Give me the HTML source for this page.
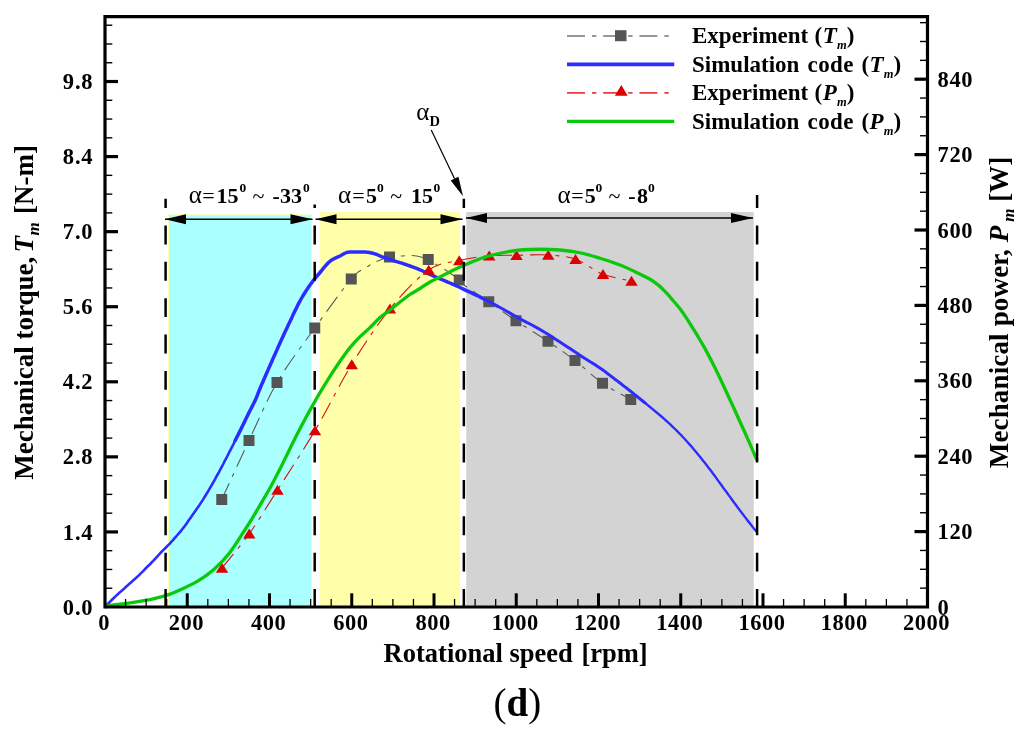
<!DOCTYPE html>
<html lang="en"><head><meta charset="utf-8"><title>Mechanical torque and power vs rotational speed (d)</title>
<style>html,body{margin:0;padding:0;background:#fff}svg{display:block}text{font-family:"Liberation Serif","DejaVu Serif",serif;fill:#000}.b{font-weight:bold}.i{font-style:italic}.bi{font-weight:bold;font-style:italic}</style></head><body>
<svg width="1024" height="736" viewBox="0 0 1024 736">
<rect width="1024" height="736" fill="#fff"/>
<rect x="168.5" y="214.8" width="143.2" height="392" fill="#aaffff" stroke="#ffffb0" stroke-width="1.1"/>
<rect x="319.5" y="212" width="140.5" height="394.5" fill="#ffffaa"/>
<rect x="466.25" y="212" width="287.5" height="394.5" fill="#d3d3d3"/>
<path d="M221.75,499.50 C226.29,489.67 239.79,460.00 249.00,440.50 C258.21,421.00 266.04,401.25 277.00,382.50 C287.96,363.75 302.38,345.25 314.75,328.00 C327.12,310.75 342.82,288.98 351.25,279.00 C359.68,269.02 361.34,270.88 365.30,268.10 C369.26,265.32 370.97,264.15 375.00,262.30 C379.03,260.45 385.08,258.05 389.50,257.00 C393.92,255.95 397.92,256.25 401.50,256.00 C405.08,255.75 407.58,255.30 411.00,255.50 C414.42,255.70 419.12,256.53 422.00,257.20 C424.88,257.87 426.20,258.48 428.25,259.50 C430.30,260.52 432.61,262.22 434.30,263.30 C435.99,264.38 436.28,264.72 438.40,266.00 C440.52,267.28 443.52,268.67 447.00,271.00 C450.48,273.33 456.35,277.62 459.25,280.00 C462.15,282.38 461.82,283.25 464.40,285.30 C466.97,287.35 470.64,289.56 474.70,292.30 C478.76,295.04 481.87,297.01 488.75,301.75 C495.63,306.49 506.12,314.17 516.00,320.75 C525.88,327.33 538.17,334.62 548.00,341.25 C557.83,347.88 565.92,353.50 575.00,360.50 C584.08,367.50 593.21,376.75 602.50,383.25 C611.79,389.75 626.04,396.79 630.75,399.50" fill="none" stroke="#5a5a5a" stroke-width="1.1" stroke-dasharray="18 7 4 7"/>
<rect x="216.25" y="494.00" width="11" height="11" fill="#555"/>
<rect x="243.50" y="435.00" width="11" height="11" fill="#555"/>
<rect x="271.50" y="377.00" width="11" height="11" fill="#555"/>
<rect x="309.25" y="322.50" width="11" height="11" fill="#555"/>
<rect x="345.75" y="273.50" width="11" height="11" fill="#555"/>
<rect x="384.00" y="251.50" width="11" height="11" fill="#555"/>
<rect x="422.75" y="254.00" width="11" height="11" fill="#555"/>
<rect x="453.75" y="274.50" width="11" height="11" fill="#555"/>
<rect x="483.25" y="296.25" width="11" height="11" fill="#555"/>
<rect x="510.50" y="315.25" width="11" height="11" fill="#555"/>
<rect x="542.50" y="335.75" width="11" height="11" fill="#555"/>
<rect x="569.50" y="355.00" width="11" height="11" fill="#555"/>
<rect x="597.00" y="377.75" width="11" height="11" fill="#555"/>
<rect x="625.25" y="394.00" width="11" height="11" fill="#555"/>
<path d="M105.5,607.0 L105.6,606.9 L105.6,606.7 L105.6,606.5 L105.8,606.2 L106.2,605.7 L106.8,605.0 L107.8,604.0 L109.1,602.6 L110.6,601.1 L112.2,599.5 L113.8,598.0 L115.2,596.6 L116.5,595.4 L117.8,594.2 L119.0,593.1 L120.3,592.0 L121.5,590.9 L122.8,589.8 L124.1,588.7 L125.3,587.5 L126.6,586.3 L127.9,585.2 L129.1,584.0 L130.4,582.9 L131.7,581.8 L132.9,580.7 L134.2,579.5 L135.5,578.4 L136.7,577.3 L138.0,576.1 L139.3,574.9 L140.5,573.6 L141.8,572.4 L143.1,571.1 L144.3,569.8 L145.6,568.5 L146.9,567.2 L148.1,566.0 L149.4,564.8 L150.7,563.5 L151.9,562.2 L153.2,560.9 L154.5,559.5 L155.8,558.1 L157.1,556.7 L158.3,555.3 L159.6,553.9 L160.9,552.5 L162.2,551.2 L163.4,549.9 L164.7,548.7 L166.0,547.5 L167.2,546.2 L168.5,544.9 L169.8,543.6 L171.0,542.2 L172.3,540.8 L173.6,539.4 L174.8,537.9 L176.1,536.5 L177.4,535.0 L178.6,533.6 L179.9,532.1 L181.2,530.6 L182.4,529.0 L183.7,527.4 L185.0,525.7 L186.3,523.9 L187.6,522.0 L188.9,520.1 L190.1,518.4 L191.3,516.7 L192.3,515.2 L193.3,513.9 L194.2,512.6 L195.1,511.3 L196.0,510.0 L197.0,508.5 L198.1,506.9 L199.3,505.2 L200.5,503.4 L201.7,501.6 L203.0,499.6 L204.3,497.5 L205.7,495.2 L207.2,492.8 L208.7,490.3 L210.2,487.7 L211.7,485.1 L213.2,482.5 L214.7,479.9 L216.1,477.2 L217.6,474.5 L219.1,471.8 L220.5,469.1 L222.0,466.3 L223.5,463.5 L224.9,460.7 L226.4,457.9 L227.9,455.0 L229.3,452.2 L230.8,449.3 L232.3,446.4 L233.8,443.5 L235.2,440.5 L236.7,437.5 L238.2,434.6 L239.7,431.6" fill="none" stroke="#2c2cff" stroke-width="2.6" stroke-linejoin="round" stroke-linecap="round"/>
<path d="M235.2,440.5 L236.7,437.5 L238.2,434.6 L239.7,431.6 L241.2,428.6 L242.7,425.5 L244.2,422.4 L245.7,419.3 L247.1,416.4 L248.5,413.6 L249.8,411.0 L251.1,408.5 L252.3,406.1 L253.5,403.8 L254.6,401.6 L255.6,399.5 L256.4,397.6 L257.1,396.0 L257.6,394.6 L258.2,392.9 L259.0,391.0 L260.0,388.5 L261.3,385.4 L262.9,381.7 L264.6,377.7 L266.5,373.6 L268.3,369.4 L270.0,365.5 L271.7,361.7 L273.3,357.9 L275.0,354.2 L276.7,350.4 L278.3,346.7 L280.0,343.0 L281.7,339.3 L283.3,335.7 L285.0,332.1 L286.7,328.5 L288.3,324.9 L290.0,321.4 L291.7,317.9 L293.3,314.3 L295.0,310.9 L296.7,307.4 L298.3,304.1 L300.0,301.0 L301.7,298.0 L303.3,295.2 L305.0,292.5 L306.7,289.9 L308.3,287.4 L310.0,285.0 L311.7,282.7 L313.3,280.5 L315.0,278.5 L316.7,276.4 L318.3,274.5 L320.0,272.5 L321.7,270.5 L323.3,268.4 L325.0,266.4 L326.7,264.5 L328.3,262.8 L330.0,261.2 L331.7,260.0 L333.5,259.0 L335.2,258.1 L336.9,257.4 L338.5,256.7 L340.0,256.0 L341.3,255.3 L342.5,254.6 L343.5,254.0 L344.5,253.4 L345.5,253.0 L346.5,252.6 L347.4,252.3 L348.3,252.2 L349.2,252.1 L350.0,252.1 L351.0,252.1 L352.0,252.1 L353.2,252.1 L354.5,252.0 L355.8,252.0 L357.2,252.0 L358.6,252.0 L360.0,252.0 L361.3,252.0 L362.7,252.0 L364.1,252.0 L365.4,252.1 L366.7,252.2 L368.0,252.3 L369.2,252.5 L370.4,252.7 L371.6,253.0 L372.8,253.3 L373.9,253.6 L375.0,253.9 L376.0,254.2 L377.0,254.6 L377.9,255.0 L378.8,255.4 L379.8,255.8 L381.0,256.3 L382.3,256.8 L383.7,257.3 L385.2,257.9 L386.8,258.5 L388.4,259.1 L390.0,259.6 L391.6,260.1 L393.3,260.6 L394.9,261.1 L396.6,261.6 L398.3,262.1 L400.0,262.6 L401.7,263.1 L403.3,263.7 L405.0,264.3 L406.7,264.8 L408.3,265.4 L410.0,266.0 L411.7,266.6 L413.3,267.2 L415.0,267.8 L416.7,268.4 L418.3,269.1 L420.0,269.8 L421.7,270.5 L423.3,271.3 L425.0,272.1 L426.7,272.9 L428.3,273.7 L430.0,274.5 L431.7,275.2 L433.3,276.0 L435.0,276.7 L436.7,277.4 L438.3,278.0 L440.0,278.8 L441.7,279.5 L443.3,280.2 L445.0,280.9 L446.7,281.6 L448.3,282.3 L450.0,283.0 L451.6,283.7 L453.0,284.3 L454.4,284.9 L455.9,285.6 L457.8,286.5 L460.0,287.5 L462.8,288.8 L465.9,290.3 L469.4,291.9 L473.0,293.6 L476.6,295.3 L480.0,297.0 L483.3,298.7" fill="none" stroke="#2c2cff" stroke-width="3.5" stroke-linejoin="round" stroke-linecap="round"/>
<path d="M480.0,297.0 L483.3,298.7 L486.7,300.4 L490.0,302.1 L493.3,303.9 L496.7,305.7 L500.0,307.5 L503.3,309.3 L506.7,311.2 L510.0,313.1 L513.3,315.0 L516.7,316.9 L520.0,318.8 L523.3,320.6 L526.7,322.3 L530.0,324.0 L533.3,325.8 L536.7,327.6 L540.0,329.5 L543.3,331.5 L546.7,333.5 L550.0,335.6 L553.3,337.7 L556.7,339.9 L560.0,342.0 L563.3,344.2 L566.7,346.4 L570.0,348.6 L573.3,350.8 L576.7,353.0 L580.0,355.2 L583.4,357.4 L587.0,359.7 L590.6,362.0 L594.1,364.1 L597.2,366.2 L600.0,368.0 L602.2,369.5 L604.1,370.9 L605.6,372.0 L607.0,373.1 L608.4,374.2 L610.0,375.4 L611.7,376.7 L613.3,377.9 L615.0,379.2 L616.7,380.4 L618.3,381.7 L620.0,383.0 L621.7,384.3 L623.3,385.6 L625.0,386.9 L626.7,388.2 L628.3,389.5 L630.0,390.8 L631.7,392.1 L633.3,393.4 L635.0,394.8 L636.7,396.1 L638.3,397.5 L640.0,398.8 L641.7,400.2 L643.3,401.5 L645.0,402.9" fill="none" stroke="#2c2cff" stroke-width="3.0" stroke-linejoin="round" stroke-linecap="round"/>
<path d="M640.0,398.8 L641.7,400.2 L643.3,401.5 L645.0,402.9 L646.7,404.3 L648.3,405.6 L650.0,407.0 L651.7,408.4 L653.3,409.7 L655.0,411.1 L656.7,412.5 L658.3,413.9 L660.0,415.3 L661.7,416.7 L663.3,418.2 L665.0,419.7 L666.7,421.1 L668.3,422.7 L670.0,424.2 L671.7,425.8 L673.3,427.4 L675.0,429.0 L676.7,430.6 L678.3,432.3 L680.0,434.0 L681.7,435.7 L683.3,437.5 L685.0,439.3 L686.7,441.2 L688.3,443.0 L690.0,444.9 L691.7,446.8 L693.3,448.8 L695.0,450.7 L696.7,452.7 L698.3,454.8 L700.0,456.8 L701.7,458.9 L703.3,461.0 L705.0,463.1 L706.7,465.2 L708.3,467.4 L710.0,469.6 L711.7,471.8 L713.3,474.1 L715.0,476.3 L716.7,478.6 L718.3,480.9 L720.0,483.2 L721.7,485.5 L723.3,487.8 L725.0,490.1 L726.7,492.3 L728.3,494.6 L730.0,496.9 L731.7,499.2 L733.3,501.5 L735.0,503.7 L736.7,506.0 L738.3,508.3 L740.0,510.5 L741.7,512.8 L743.5,515.1 L745.2,517.4 L746.9,519.6 L748.5,521.7 L750.0,523.6 L751.4,525.3 L752.7,526.9 L753.9,528.4 L754.9,529.7 L755.8,530.8 L756.5,531.6" fill="none" stroke="#2c2cff" stroke-width="2.4" stroke-linejoin="round" stroke-linecap="round"/>
<path d="M222.00,568.00 C226.54,562.29 240.00,546.75 249.25,533.75 C258.50,520.75 266.54,507.21 277.50,490.00 C288.46,472.79 302.62,451.42 315.00,430.50 C327.38,409.58 339.25,384.79 351.75,364.50 C364.25,344.21 377.17,324.50 390.00,308.75 C402.83,293.00 417.21,278.04 428.75,270.00 C440.29,261.96 449.17,262.88 459.25,260.50 C469.33,258.12 479.71,256.62 489.25,255.75 C498.79,254.88 506.67,255.38 516.50,255.25 C526.33,255.12 538.42,254.33 548.25,255.00 C558.08,255.67 566.38,256.04 575.50,259.25 C584.62,262.46 593.67,270.62 603.00,274.25 C612.33,277.88 626.75,279.88 631.50,281.00" fill="none" stroke="#d81010" stroke-width="1.1" stroke-dasharray="18 7 4 7"/>
<path d="M222.00,562.80 L228.20,572.80 L215.80,572.80 Z" fill="#dc0000"/>
<path d="M249.25,528.55 L255.45,538.55 L243.05,538.55 Z" fill="#dc0000"/>
<path d="M277.50,484.80 L283.70,494.80 L271.30,494.80 Z" fill="#dc0000"/>
<path d="M315.00,425.30 L321.20,435.30 L308.80,435.30 Z" fill="#dc0000"/>
<path d="M351.75,359.30 L357.95,369.30 L345.55,369.30 Z" fill="#dc0000"/>
<path d="M390.00,303.55 L396.20,313.55 L383.80,313.55 Z" fill="#dc0000"/>
<path d="M428.75,264.80 L434.95,274.80 L422.55,274.80 Z" fill="#dc0000"/>
<path d="M459.25,255.30 L465.45,265.30 L453.05,265.30 Z" fill="#dc0000"/>
<path d="M489.25,250.55 L495.45,260.55 L483.05,260.55 Z" fill="#dc0000"/>
<path d="M516.50,250.05 L522.70,260.05 L510.30,260.05 Z" fill="#dc0000"/>
<path d="M548.25,249.80 L554.45,259.80 L542.05,259.80 Z" fill="#dc0000"/>
<path d="M575.50,254.05 L581.70,264.05 L569.30,264.05 Z" fill="#dc0000"/>
<path d="M603.00,269.05 L609.20,279.05 L596.80,279.05 Z" fill="#dc0000"/>
<path d="M631.50,275.80 L637.70,285.80 L625.30,285.80 Z" fill="#dc0000"/>
<path d="M105.50,607.00 C106.10,606.77 106.22,606.12 109.10,605.60 C111.98,605.08 117.98,604.57 122.80,603.90 C127.62,603.23 132.93,602.43 138.00,601.60 C143.07,600.77 148.12,600.07 153.20,598.90 C158.28,597.73 163.42,596.38 168.50,594.60 C173.58,592.82 178.63,590.57 183.70,588.20 C188.77,585.83 193.83,583.57 198.90,580.40 C203.97,577.23 209.03,573.73 214.10,569.20 C219.17,564.67 224.23,559.65 229.30,553.20 C234.37,546.75 240.50,536.60 244.50,530.50 C248.50,524.40 250.37,521.42 253.30,516.60 C256.23,511.78 259.15,506.67 262.10,501.60 C265.05,496.53 268.05,491.58 271.00,486.20 C273.95,480.82 276.87,475.10 279.80,469.30 C282.73,463.50 285.65,457.35 288.60,451.40 C291.55,445.45 294.55,439.37 297.50,433.60 C300.45,427.83 303.50,421.98 306.30,416.80 C309.10,411.62 312.02,406.53 314.30,402.50 C316.58,398.47 317.38,396.95 320.00,392.60 C322.62,388.25 326.67,381.62 330.00,376.40 C333.33,371.18 336.67,366.10 340.00,361.30 C343.33,356.50 346.67,351.70 350.00,347.60 C353.33,343.50 356.67,340.03 360.00,336.70 C363.33,333.37 366.67,330.80 370.00,327.60 C373.33,324.40 376.67,320.43 380.00,317.50 C383.33,314.57 386.67,312.58 390.00,310.00 C393.33,307.42 396.67,304.58 400.00,302.00 C403.33,299.42 406.67,296.75 410.00,294.50 C413.33,292.25 416.67,290.58 420.00,288.50 C423.33,286.42 426.67,283.92 430.00,282.00 C433.33,280.08 436.67,278.71 440.00,277.00 C443.33,275.29 446.67,273.42 450.00,271.75 C453.33,270.08 455.00,269.17 460.00,267.00 C465.00,264.83 473.33,261.04 480.00,258.75 C486.67,256.46 493.33,254.71 500.00,253.25 C506.67,251.79 513.33,250.67 520.00,250.00 C526.67,249.33 533.33,249.25 540.00,249.25 C546.67,249.25 553.33,249.42 560.00,250.00 C566.67,250.58 573.33,251.38 580.00,252.75 C586.67,254.12 593.33,256.21 600.00,258.25 C606.67,260.29 614.17,262.76 620.00,265.00 C625.83,267.24 630.00,269.33 635.00,271.70 C640.00,274.07 646.00,276.88 650.00,279.20 C654.00,281.52 656.50,283.57 659.00,285.60 C661.50,287.63 662.78,289.07 665.00,291.40 C667.22,293.73 669.80,296.70 672.30,299.60 C674.80,302.50 677.50,305.52 680.00,308.80 C682.50,312.08 684.85,315.57 687.30,319.30 C689.75,323.03 692.53,327.67 694.70,331.20 C696.87,334.73 698.33,337.14 700.30,340.50 C702.27,343.86 704.00,346.68 706.50,351.35 C709.00,356.02 712.35,362.52 715.30,368.50 C718.25,374.48 721.25,380.90 724.20,387.20 C727.15,393.50 730.07,399.88 733.00,406.30 C735.93,412.72 738.85,419.13 741.80,425.70 C744.75,432.27 748.13,439.82 750.70,445.70 C753.27,451.58 756.12,458.45 757.20,461.00" fill="none" stroke="#0cc80c" stroke-width="3.3" stroke-linejoin="round"/>
<line x1="165.60" y1="607.9" x2="165.60" y2="198.75" stroke="#000" stroke-width="2.5" stroke-dasharray="18.9 17.45"/>
<line x1="314.70" y1="607.9" x2="314.70" y2="204.50" stroke="#000" stroke-width="2.5" stroke-dasharray="18.9 17.45"/>
<line x1="463.85" y1="607.9" x2="463.85" y2="198.75" stroke="#000" stroke-width="2.5" stroke-dasharray="18.9 17.45"/>
<line x1="757.10" y1="607.9" x2="757.10" y2="195.00" stroke="#000" stroke-width="2.5" stroke-dasharray="18.9 17.45"/>
<line x1="165.00" y1="219.25" x2="312.50" y2="219.25" stroke="#000" stroke-width="1.3"/>
<path d="M165.00,219.25 L186.00,214.25 L186.00,224.25 Z" fill="#000"/>
<path d="M312.50,219.25 L290.50,214.25 L290.50,224.25 Z" fill="#000"/>
<line x1="315.50" y1="219.25" x2="462.50" y2="219.25" stroke="#000" stroke-width="1.3"/>
<path d="M315.50,219.25 L336.50,214.25 L336.50,224.25 Z" fill="#000"/>
<path d="M462.50,219.25 L440.50,214.25 L440.50,224.25 Z" fill="#000"/>
<line x1="466.00" y1="218.00" x2="753.00" y2="218.00" stroke="#000" stroke-width="1.3"/>
<path d="M466.00,218.00 L487.00,213.00 L487.00,223.00 Z" fill="#000"/>
<path d="M753.00,218.00 L731.00,213.00 L731.00,223.00 Z" fill="#000"/>
<line x1="431.25" y1="130.00" x2="454.57" y2="178.67" stroke="#000" stroke-width="1.2"/>
<path d="M463.00,196.25 L450.69,180.52 L458.45,176.81 Z" fill="#000"/>
<path d="M105,16.7 H927.5 V607 H105 Z" fill="none" stroke="#000" stroke-width="3.2" stroke-linejoin="miter"/>
<line x1="125.56" y1="606" x2="125.56" y2="599" stroke="#000" stroke-width="1.3"/>
<line x1="146.12" y1="606" x2="146.12" y2="599" stroke="#000" stroke-width="1.3"/>
<line x1="166.69" y1="606" x2="166.69" y2="599" stroke="#000" stroke-width="1.3"/>
<line x1="187.25" y1="606" x2="187.25" y2="593.3" stroke="#000" stroke-width="3"/>
<line x1="207.81" y1="606" x2="207.81" y2="599" stroke="#000" stroke-width="1.3"/>
<line x1="228.38" y1="606" x2="228.38" y2="599" stroke="#000" stroke-width="1.3"/>
<line x1="248.94" y1="606" x2="248.94" y2="599" stroke="#000" stroke-width="1.3"/>
<line x1="269.50" y1="606" x2="269.50" y2="593.3" stroke="#000" stroke-width="3"/>
<line x1="290.06" y1="606" x2="290.06" y2="599" stroke="#000" stroke-width="1.3"/>
<line x1="310.62" y1="606" x2="310.62" y2="599" stroke="#000" stroke-width="1.3"/>
<line x1="331.19" y1="606" x2="331.19" y2="599" stroke="#000" stroke-width="1.3"/>
<line x1="351.75" y1="606" x2="351.75" y2="593.3" stroke="#000" stroke-width="3"/>
<line x1="372.31" y1="606" x2="372.31" y2="599" stroke="#000" stroke-width="1.3"/>
<line x1="392.88" y1="606" x2="392.88" y2="599" stroke="#000" stroke-width="1.3"/>
<line x1="413.44" y1="606" x2="413.44" y2="599" stroke="#000" stroke-width="1.3"/>
<line x1="434.00" y1="606" x2="434.00" y2="593.3" stroke="#000" stroke-width="3"/>
<line x1="454.56" y1="606" x2="454.56" y2="599" stroke="#000" stroke-width="1.3"/>
<line x1="475.12" y1="606" x2="475.12" y2="599" stroke="#000" stroke-width="1.3"/>
<line x1="495.69" y1="606" x2="495.69" y2="599" stroke="#000" stroke-width="1.3"/>
<line x1="516.25" y1="606" x2="516.25" y2="593.3" stroke="#000" stroke-width="3"/>
<line x1="536.81" y1="606" x2="536.81" y2="599" stroke="#000" stroke-width="1.3"/>
<line x1="557.38" y1="606" x2="557.38" y2="599" stroke="#000" stroke-width="1.3"/>
<line x1="577.94" y1="606" x2="577.94" y2="599" stroke="#000" stroke-width="1.3"/>
<line x1="598.50" y1="606" x2="598.50" y2="593.3" stroke="#000" stroke-width="3"/>
<line x1="619.06" y1="606" x2="619.06" y2="599" stroke="#000" stroke-width="1.3"/>
<line x1="639.62" y1="606" x2="639.62" y2="599" stroke="#000" stroke-width="1.3"/>
<line x1="660.19" y1="606" x2="660.19" y2="599" stroke="#000" stroke-width="1.3"/>
<line x1="680.75" y1="606" x2="680.75" y2="593.3" stroke="#000" stroke-width="3"/>
<line x1="701.31" y1="606" x2="701.31" y2="599" stroke="#000" stroke-width="1.3"/>
<line x1="721.88" y1="606" x2="721.88" y2="599" stroke="#000" stroke-width="1.3"/>
<line x1="742.44" y1="606" x2="742.44" y2="599" stroke="#000" stroke-width="1.3"/>
<line x1="763.00" y1="606" x2="763.00" y2="593.3" stroke="#000" stroke-width="3"/>
<line x1="783.56" y1="606" x2="783.56" y2="599" stroke="#000" stroke-width="1.3"/>
<line x1="804.12" y1="606" x2="804.12" y2="599" stroke="#000" stroke-width="1.3"/>
<line x1="824.69" y1="606" x2="824.69" y2="599" stroke="#000" stroke-width="1.3"/>
<line x1="845.25" y1="606" x2="845.25" y2="593.3" stroke="#000" stroke-width="3"/>
<line x1="865.81" y1="606" x2="865.81" y2="599" stroke="#000" stroke-width="1.3"/>
<line x1="886.38" y1="606" x2="886.38" y2="599" stroke="#000" stroke-width="1.3"/>
<line x1="906.94" y1="606" x2="906.94" y2="599" stroke="#000" stroke-width="1.3"/>
<line x1="106" y1="588.23" x2="112.3" y2="588.23" stroke="#000" stroke-width="1.4"/>
<line x1="926.5" y1="588.15" x2="920" y2="588.15" stroke="#000" stroke-width="1.4"/>
<line x1="106" y1="569.47" x2="112.3" y2="569.47" stroke="#000" stroke-width="1.4"/>
<line x1="926.5" y1="569.30" x2="920" y2="569.30" stroke="#000" stroke-width="1.4"/>
<line x1="106" y1="550.70" x2="112.3" y2="550.70" stroke="#000" stroke-width="1.4"/>
<line x1="926.5" y1="550.45" x2="920" y2="550.45" stroke="#000" stroke-width="1.4"/>
<line x1="106" y1="531.93" x2="118" y2="531.93" stroke="#000" stroke-width="3.2"/>
<line x1="926.5" y1="531.60" x2="914.5" y2="531.60" stroke="#000" stroke-width="3.2"/>
<line x1="106" y1="513.16" x2="112.3" y2="513.16" stroke="#000" stroke-width="1.4"/>
<line x1="926.5" y1="512.75" x2="920" y2="512.75" stroke="#000" stroke-width="1.4"/>
<line x1="106" y1="494.39" x2="112.3" y2="494.39" stroke="#000" stroke-width="1.4"/>
<line x1="926.5" y1="493.90" x2="920" y2="493.90" stroke="#000" stroke-width="1.4"/>
<line x1="106" y1="475.63" x2="112.3" y2="475.63" stroke="#000" stroke-width="1.4"/>
<line x1="926.5" y1="475.05" x2="920" y2="475.05" stroke="#000" stroke-width="1.4"/>
<line x1="106" y1="456.86" x2="118" y2="456.86" stroke="#000" stroke-width="3.2"/>
<line x1="926.5" y1="456.20" x2="914.5" y2="456.20" stroke="#000" stroke-width="3.2"/>
<line x1="106" y1="438.09" x2="112.3" y2="438.09" stroke="#000" stroke-width="1.4"/>
<line x1="926.5" y1="437.35" x2="920" y2="437.35" stroke="#000" stroke-width="1.4"/>
<line x1="106" y1="419.33" x2="112.3" y2="419.33" stroke="#000" stroke-width="1.4"/>
<line x1="926.5" y1="418.50" x2="920" y2="418.50" stroke="#000" stroke-width="1.4"/>
<line x1="106" y1="400.56" x2="112.3" y2="400.56" stroke="#000" stroke-width="1.4"/>
<line x1="926.5" y1="399.65" x2="920" y2="399.65" stroke="#000" stroke-width="1.4"/>
<line x1="106" y1="381.79" x2="118" y2="381.79" stroke="#000" stroke-width="3.2"/>
<line x1="926.5" y1="380.80" x2="914.5" y2="380.80" stroke="#000" stroke-width="3.2"/>
<line x1="106" y1="363.02" x2="112.3" y2="363.02" stroke="#000" stroke-width="1.4"/>
<line x1="926.5" y1="361.95" x2="920" y2="361.95" stroke="#000" stroke-width="1.4"/>
<line x1="106" y1="344.25" x2="112.3" y2="344.25" stroke="#000" stroke-width="1.4"/>
<line x1="926.5" y1="343.10" x2="920" y2="343.10" stroke="#000" stroke-width="1.4"/>
<line x1="106" y1="325.49" x2="112.3" y2="325.49" stroke="#000" stroke-width="1.4"/>
<line x1="926.5" y1="324.25" x2="920" y2="324.25" stroke="#000" stroke-width="1.4"/>
<line x1="106" y1="306.72" x2="118" y2="306.72" stroke="#000" stroke-width="3.2"/>
<line x1="926.5" y1="305.40" x2="914.5" y2="305.40" stroke="#000" stroke-width="3.2"/>
<line x1="106" y1="287.95" x2="112.3" y2="287.95" stroke="#000" stroke-width="1.4"/>
<line x1="926.5" y1="286.55" x2="920" y2="286.55" stroke="#000" stroke-width="1.4"/>
<line x1="106" y1="269.19" x2="112.3" y2="269.19" stroke="#000" stroke-width="1.4"/>
<line x1="926.5" y1="267.70" x2="920" y2="267.70" stroke="#000" stroke-width="1.4"/>
<line x1="106" y1="250.42" x2="112.3" y2="250.42" stroke="#000" stroke-width="1.4"/>
<line x1="926.5" y1="248.85" x2="920" y2="248.85" stroke="#000" stroke-width="1.4"/>
<line x1="106" y1="231.65" x2="118" y2="231.65" stroke="#000" stroke-width="3.2"/>
<line x1="926.5" y1="230.00" x2="914.5" y2="230.00" stroke="#000" stroke-width="3.2"/>
<line x1="106" y1="212.88" x2="112.3" y2="212.88" stroke="#000" stroke-width="1.4"/>
<line x1="926.5" y1="211.15" x2="920" y2="211.15" stroke="#000" stroke-width="1.4"/>
<line x1="106" y1="194.12" x2="112.3" y2="194.12" stroke="#000" stroke-width="1.4"/>
<line x1="926.5" y1="192.30" x2="920" y2="192.30" stroke="#000" stroke-width="1.4"/>
<line x1="106" y1="175.35" x2="112.3" y2="175.35" stroke="#000" stroke-width="1.4"/>
<line x1="926.5" y1="173.45" x2="920" y2="173.45" stroke="#000" stroke-width="1.4"/>
<line x1="106" y1="156.58" x2="118" y2="156.58" stroke="#000" stroke-width="3.2"/>
<line x1="926.5" y1="154.60" x2="914.5" y2="154.60" stroke="#000" stroke-width="3.2"/>
<line x1="106" y1="137.81" x2="112.3" y2="137.81" stroke="#000" stroke-width="1.4"/>
<line x1="926.5" y1="135.75" x2="920" y2="135.75" stroke="#000" stroke-width="1.4"/>
<line x1="106" y1="119.05" x2="112.3" y2="119.05" stroke="#000" stroke-width="1.4"/>
<line x1="926.5" y1="116.90" x2="920" y2="116.90" stroke="#000" stroke-width="1.4"/>
<line x1="106" y1="100.28" x2="112.3" y2="100.28" stroke="#000" stroke-width="1.4"/>
<line x1="926.5" y1="98.05" x2="920" y2="98.05" stroke="#000" stroke-width="1.4"/>
<line x1="106" y1="81.51" x2="118" y2="81.51" stroke="#000" stroke-width="3.2"/>
<line x1="926.5" y1="79.20" x2="914.5" y2="79.20" stroke="#000" stroke-width="3.2"/>
<line x1="106" y1="62.74" x2="112.3" y2="62.74" stroke="#000" stroke-width="1.4"/>
<line x1="926.5" y1="60.35" x2="920" y2="60.35" stroke="#000" stroke-width="1.4"/>
<line x1="106" y1="43.98" x2="112.3" y2="43.98" stroke="#000" stroke-width="1.4"/>
<line x1="926.5" y1="41.50" x2="920" y2="41.50" stroke="#000" stroke-width="1.4"/>
<line x1="106" y1="25.21" x2="112.3" y2="25.21" stroke="#000" stroke-width="1.4"/>
<line x1="926.5" y1="22.65" x2="920" y2="22.65" stroke="#000" stroke-width="1.4"/>
<text class="b" x="104.00" y="630.4" font-size="22.5" text-anchor="middle" letter-spacing="0.5">0</text>
<text class="b" x="186.25" y="630.4" font-size="22.5" text-anchor="middle" letter-spacing="0.5">200</text>
<text class="b" x="268.50" y="630.4" font-size="22.5" text-anchor="middle" letter-spacing="0.5">400</text>
<text class="b" x="350.75" y="630.4" font-size="22.5" text-anchor="middle" letter-spacing="0.5">600</text>
<text class="b" x="433.00" y="630.4" font-size="22.5" text-anchor="middle" letter-spacing="0.5">800</text>
<text class="b" x="515.25" y="630.4" font-size="22.5" text-anchor="middle" letter-spacing="0.5">1000</text>
<text class="b" x="597.50" y="630.4" font-size="22.5" text-anchor="middle" letter-spacing="0.5">1200</text>
<text class="b" x="679.75" y="630.4" font-size="22.5" text-anchor="middle" letter-spacing="0.5">1400</text>
<text class="b" x="762.00" y="630.4" font-size="22.5" text-anchor="middle" letter-spacing="0.5">1600</text>
<text class="b" x="844.25" y="630.4" font-size="22.5" text-anchor="middle" letter-spacing="0.5">1800</text>
<text class="b" x="926.50" y="630.4" font-size="22.5" text-anchor="middle" letter-spacing="0.5">2000</text>
<text class="b" x="93.4" y="614.60" font-size="22.5" text-anchor="end" letter-spacing="0.8">0.0</text>
<text class="b" x="93.4" y="539.53" font-size="22.5" text-anchor="end" letter-spacing="0.8">1.4</text>
<text class="b" x="93.4" y="464.46" font-size="22.5" text-anchor="end" letter-spacing="0.8">2.8</text>
<text class="b" x="93.4" y="389.39" font-size="22.5" text-anchor="end" letter-spacing="0.8">4.2</text>
<text class="b" x="93.4" y="314.32" font-size="22.5" text-anchor="end" letter-spacing="0.8">5.6</text>
<text class="b" x="93.4" y="239.25" font-size="22.5" text-anchor="end" letter-spacing="0.8">7.0</text>
<text class="b" x="93.4" y="164.18" font-size="22.5" text-anchor="end" letter-spacing="0.8">8.4</text>
<text class="b" x="93.4" y="89.11" font-size="22.5" text-anchor="end" letter-spacing="0.8">9.8</text>
<text class="b" x="937.6" y="614.60" font-size="22.5" letter-spacing="0.6">0</text>
<text class="b" x="937.6" y="539.20" font-size="22.5" letter-spacing="0.6">120</text>
<text class="b" x="937.6" y="463.80" font-size="22.5" letter-spacing="0.6">240</text>
<text class="b" x="937.6" y="388.40" font-size="22.5" letter-spacing="0.6">360</text>
<text class="b" x="937.6" y="313.00" font-size="22.5" letter-spacing="0.6">480</text>
<text class="b" x="937.6" y="237.60" font-size="22.5" letter-spacing="0.6">600</text>
<text class="b" x="937.6" y="162.20" font-size="22.5" letter-spacing="0.6">720</text>
<text class="b" x="937.6" y="86.80" font-size="22.5" letter-spacing="0.6">840</text>
<text class="b" x="383.6" y="662.3" font-size="26.5">Rotational speed <tspan dx="2">[rpm]</tspan></text>
<text x="493.5" y="716" font-size="39">(<tspan class="b">d</tspan>)</text>
<text class="b" transform="translate(32.6,479.8) rotate(-90)" font-size="27">Mechanical torque, <tspan class="bi" dx="-2.5">T</tspan><tspan class="bi" font-size="17" dy="6" dx="0.5">m</tspan><tspan dy="-6" dx="1.5"> [N-m]</tspan></text>
<text class="b" transform="translate(1008,468.2) rotate(-90)" font-size="27"><tspan letter-spacing="0.15">Mechanical power, </tspan><tspan class="bi">P</tspan><tspan class="bi" font-size="17" dy="6" dx="4">m</tspan><tspan dy="-6" dx="0"> [W]</tspan></text>
<line x1="567" y1="36.00" x2="671" y2="36.00" stroke="#777" stroke-width="1.6" stroke-dasharray="18 7 4.4 6.8"/>
<rect x="615" y="30.20" width="11.5" height="11" fill="#555"/>
<line x1="567" y1="64.40" x2="674.25" y2="64.40" stroke="#2c2cff" stroke-width="3.6"/>
<line x1="567" y1="92.90" x2="671" y2="92.90" stroke="#e04040" stroke-width="1.6" stroke-dasharray="18 7 4.4 6.8"/>
<path d="M621.3,85.00 L627.7,95.80 L614.9,95.80 Z" fill="#dc0000"/>
<line x1="567" y1="121.40" x2="674.25" y2="121.40" stroke="#0cc80c" stroke-width="3.4"/>
<text class="b" y="43.40" font-size="23"><tspan x="692">Experiment </tspan><tspan x="814.60">(</tspan><tspan class="bi" x="822.80">T</tspan><tspan class="bi" font-size="12.5" x="836.90" y="49.20">m</tspan><tspan x="846.80" y="43.40">)</tspan></text>
<text class="b" y="71.70" font-size="23"><tspan x="692">Simulation </tspan><tspan x="807.6" letter-spacing="0.4">code </tspan><tspan x="861.40">(</tspan><tspan class="bi" x="869.60">T</tspan><tspan class="bi" font-size="12.5" x="883.70" y="77.50">m</tspan><tspan x="893.60" y="71.70">)</tspan></text>
<text class="b" y="100.40" font-size="23"><tspan x="692">Experiment </tspan><tspan x="814.60">(</tspan><tspan class="bi" x="822.80">P</tspan><tspan class="bi" font-size="12.5" x="836.90" y="106.20">m</tspan><tspan x="846.80" y="100.40">)</tspan></text>
<text class="b" y="128.90" font-size="23"><tspan x="692">Simulation </tspan><tspan x="807.6" letter-spacing="0.4">code </tspan><tspan x="861.40">(</tspan><tspan class="bi" x="869.60">P</tspan><tspan class="bi" font-size="12.5" x="883.70" y="134.70">m</tspan><tspan x="893.60" y="128.90">)</tspan></text>
<text y="203.40" font-size="22" class="b"><tspan x="188.80" y="203.40" font-weight="normal" font-size="25">α</tspan><tspan x="202.30" y="203.40" font-weight="normal">=</tspan><tspan x="216.50" y="203.40">15</tspan><tspan x="239.60" y="192.40" font-size="13.5">0</tspan><tspan x="252.50" y="203.40" font-weight="normal">~</tspan><tspan x="272.60" y="203.40">-</tspan><tspan x="280.00" y="203.40">33</tspan><tspan x="303.10" y="192.40" font-size="13.5">0</tspan></text>
<text y="203.40" font-size="22" class="b"><tspan x="338.00" y="203.40" font-weight="normal" font-size="25">α</tspan><tspan x="352.30" y="203.40" font-weight="normal">=</tspan><tspan x="366.00" y="203.40">5</tspan><tspan x="377.00" y="192.40" font-size="13.5">0</tspan><tspan x="390.20" y="203.40" font-weight="normal">~</tspan><tspan x="411.00" y="203.40">15</tspan><tspan x="433.60" y="192.40" font-size="13.5">0</tspan></text>
<text y="203.40" font-size="22" class="b"><tspan x="557.40" y="203.40" font-weight="normal" font-size="25">α</tspan><tspan x="571.20" y="203.40" font-weight="normal">=</tspan><tspan x="584.70" y="203.40">5</tspan><tspan x="595.60" y="192.40" font-size="13.5">0</tspan><tspan x="608.50" y="203.40" font-weight="normal">~</tspan><tspan x="628.20" y="203.40">-</tspan><tspan x="637.00" y="203.40">8</tspan><tspan x="648.10" y="192.40" font-size="13.5">0</tspan></text>
<text x="416.3" y="119.6" font-size="25">α<tspan class="b" x="429.6" y="126.3" font-size="14.5">D</tspan></text>
</svg></body></html>
